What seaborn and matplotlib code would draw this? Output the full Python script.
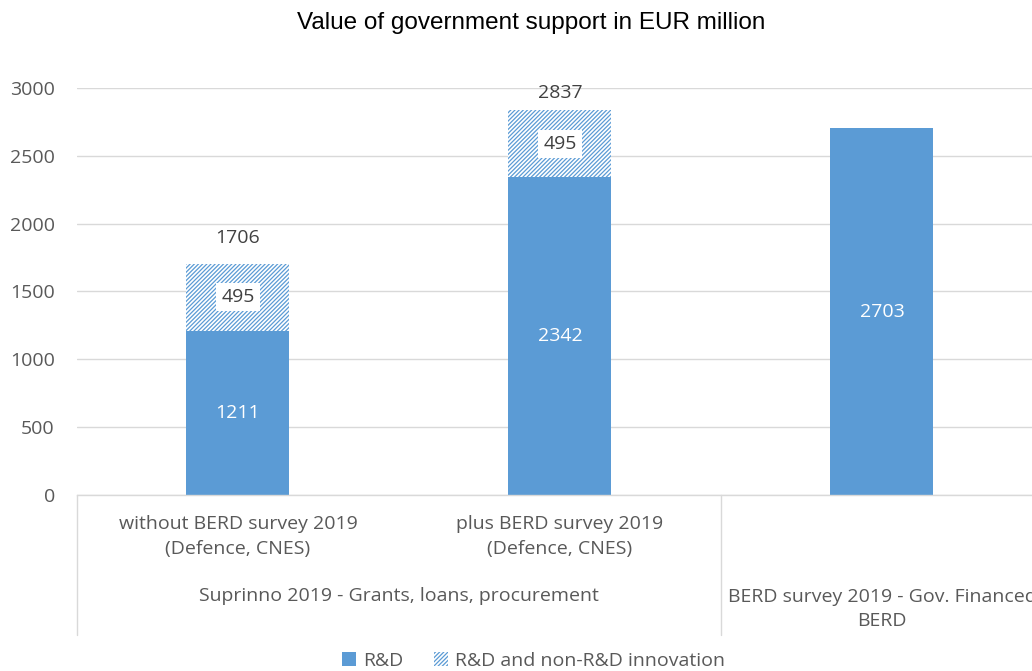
import matplotlib
matplotlib.use("Agg")
import matplotlib.pyplot as plt
from matplotlib.patches import Patch
from matplotlib import font_manager
import seaborn as sns
import pandas as pd

# Data
categories = ["without BERD survey 2019\n(Defence, CNES)",
              "plus BERD survey 2019\n(Defence, CNES)",
              "BERD survey 2019 - Gov. Financed BERD"]
rd_values = [1211, 2342, 2703]
innovation_values = [495, 495, 0]
group_labels = ["Suprinno 2019 - Grants, loans, procurement",
                "BERD survey 2019 - Gov. Financed\nBERD"]
series_names = ["R&D", "R&D and non-R&D innovation"]
title = "Value of government support in EUR million"

totals = [r + i for r, i in zip(rd_values, innovation_values)]
df = pd.DataFrame({"category": categories, "rd": rd_values,
                   "innov": innovation_values, "total": totals})

sns.set_theme(style="white")
names = {f.name for f in font_manager.fontManager.ttflist}
body_font = "Open Sans" if "Open Sans" in names else "DejaVu Sans"
title_font = "Liberation Sans Narrow" if "Liberation Sans Narrow" in names else "Liberation Sans"
plt.rcParams["font.family"] = [body_font, "DejaVu Sans"]
plt.rcParams["hatch.linewidth"] = 0.9

BLUE = "#5B9BD5"
GREY_TEXT = "#595959"
LABEL_TEXT = "#404040"
GRID = "#D9D9D9"
FS = 14
HATCH = "////////"

fig = plt.figure(figsize=(10.32, 6.71), dpi=100)
ax = fig.add_axes([0.0746, 0.2623, 0.936, 0.6066])

# Hatched totals behind, solid R&D part in front
sns.barplot(data=df, x="category", y="total", color="white", edgecolor=BLUE,
            hatch=HATCH, linewidth=0, width=0.32, ax=ax, saturation=1)
sns.barplot(data=df, x="category", y="rd", color=BLUE, linewidth=0,
            width=0.32, ax=ax, saturation=1)

ax.set_ylim(0, 3000)
ax.set_xlim(-0.5, 2.5)
ax.set_yticks(range(0, 3001, 500))
ax.yaxis.grid(True, color=GRID, linewidth=1)
ax.set_axisbelow(True)
for s in ["top", "right", "left"]:
    ax.spines[s].set_visible(False)
ax.spines["bottom"].set_color(GRID)
ax.spines["bottom"].set_linewidth(1)
ax.tick_params(axis="y", length=0, labelsize=FS, labelcolor=GREY_TEXT, pad=16)
ax.set_xticks([])
ax.set_xlabel("")
ax.set_ylabel("")

# Value labels
for i, (r, inn, t) in enumerate(zip(rd_values, innovation_values, totals)):
    ax.text(i, r / 2, f"{r}", ha="center", va="center", color="white", fontsize=FS)
    if inn > 0:
        ax.text(i, r + inn / 2, f"{inn}", ha="center", va="center", color=LABEL_TEXT,
                fontsize=FS,
                bbox=dict(facecolor="white", edgecolor="none", pad=3.5))
        # total above the stack, kept inside the plotting area
        ax.text(i, min(t + 188, 2965), f"{t}", ha="center", va="center",
                color=LABEL_TEXT, fontsize=FS)

# Multi-level category axis
trans = ax.get_xaxis_transform()
for i, c in enumerate(categories[:2]):
    ax.text(i, -0.102, c, transform=trans, ha="center", va="center",
            color=GREY_TEXT, fontsize=FS, linespacing=1.45, clip_on=False)
ax.text(0.5, -0.248, group_labels[0], transform=trans, ha="center", va="center",
        color=GREY_TEXT, fontsize=FS, clip_on=False)
ax.text(2, -0.28, group_labels[1], transform=trans, ha="center", va="center",
        color=GREY_TEXT, fontsize=FS, linespacing=1.45, clip_on=False)
for xs in [-0.5, 1.5, 2.5]:
    ax.plot([xs, xs], [0, -0.344], transform=trans, color=GRID, linewidth=1,
            clip_on=False)

# Title
fig.text(0.515, 0.965, title, ha="center", va="center", fontsize=17.5,
         family=[title_font, "DejaVu Sans"], color="black")

# Legend
handles = [Patch(facecolor=BLUE, edgecolor="none", label=series_names[0]),
           Patch(facecolor="white", edgecolor=BLUE, hatch=HATCH, linewidth=0,
                 label=series_names[1])]
fig.legend(handles=handles, loc="center", bbox_to_anchor=(0.517, 0.015), ncol=2,
           frameon=False, fontsize=FS, handlelength=0.7, handleheight=0.7,
           handletextpad=0.35, columnspacing=1.6, labelcolor=GREY_TEXT,
           borderpad=0)

fig.savefig("out.png", dpi=100)
